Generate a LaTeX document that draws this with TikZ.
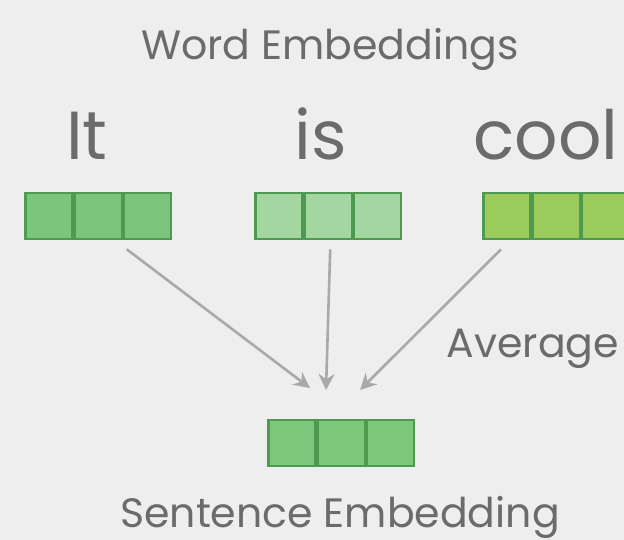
\documentclass[tikz,border=0pt]{standalone}
\usepackage{fontspec}
\setmainfont{Poppins}
\usepackage{xcolor}
\usetikzlibrary{positioning, calc, arrows.meta}

\definecolor{bgray}{HTML}{EEEEEE}
\definecolor{txtgray}{HTML}{6B6B6B}
\definecolor{arrgray}{HTML}{A9A9A9}
\definecolor{edgegreen}{HTML}{4F9A51}
\definecolor{greenA}{HTML}{7CC57D}
\definecolor{greenB}{HTML}{A3D6A1}
\definecolor{greenC}{HTML}{9BCB5B}
\definecolor{greenD}{HTML}{7DC77B}

\tikzset{
  cell/.style={draw=edgegreen, line width=2.2pt, minimum width=47pt, minimum height=46.5pt, inner sep=0pt},
  word/.style={text=txtgray, font=\fontsize{68}{68}\selectfont, anchor=base},
  label/.style={text=txtgray, font=\fontsize{41}{41}\selectfont, anchor=base},
  avg/.style={draw=arrgray, line width=2.6pt, -{Stealth[length=16pt,width=16pt]}}
}

\begin{document}
\begin{tikzpicture}[x=1pt, y=-1pt]
    \fill[bgray] (0,0) rectangle (624,540);
    \useasboundingbox (0,0) rectangle (624,540);

    \node[label] (title) at (330,60) {Word Embeddings};

    \node[word] (it)   at (87,160)  {It};
    \node[word] (is)   at (321,160) {is};
    \node[word] (cool) at (546,160) {cool};

    % word vectors
    \node[cell, fill=greenA] (it1) at (49,216) {};
    \node[cell, fill=greenA, right=0pt of it1] (it2) {};
    \node[cell, fill=greenA, right=0pt of it2] (it3) {};

    \node[cell, fill=greenB] (is1) at (279,216) {};
    \node[cell, fill=greenB, right=0pt of is1] (is2) {};
    \node[cell, fill=greenB, right=0pt of is2] (is3) {};

    \node[cell, fill=greenC] (cool1) at (507,216) {};
    \node[cell, fill=greenC, right=0pt of cool1] (cool2) {};
    \node[cell, fill=greenC, right=0pt of cool2] (cool3) {};

    % sentence vector
    \node[cell, fill=greenD] (sen1) at (292,443) {};
    \node[cell, fill=greenD, right=0pt of sen1] (sen2) {};
    \node[cell, fill=greenD, right=0pt of sen2] (sen3) {};

    \node[label] (sentence) at (340,527) {Sentence Embedding};
    \node[label] (average) at (533,357) {Average};

    \coordinate (endA) at (310,388);
    \coordinate (endB) at (326,390);
    \coordinate (endC) at (360,390);

    \draw[avg] ($(it3.south west)+(4,9)$) -- (endA);
    \draw[avg] ($(is2.south)+(2,9)$) -- (endB);
    \draw[avg] ($(cool1.south)+(-6,9)$) -- (endC);
\end{tikzpicture}
\end{document}
